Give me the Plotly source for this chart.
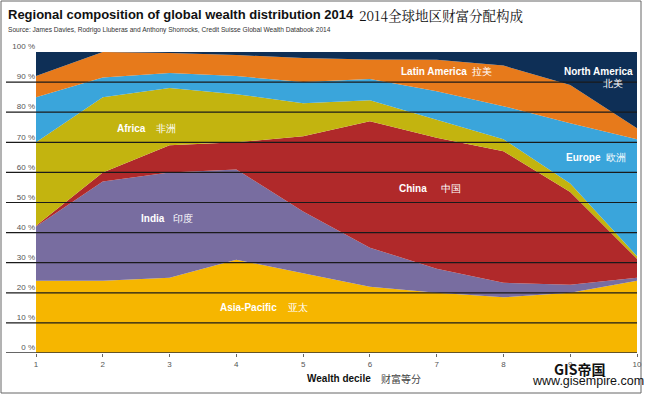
import plotly.graph_objects as go

deciles = [1, 2, 3, 4, 5, 6, 7, 8, 9, 10]
regions = ["Asia-Pacific", "India", "China", "Africa", "Europe", "Latin America", "North America"]
asia_pacific = [24, 24, 25, 31, 26.5, 22, 20, 18.5, 20, 24]
india = [18, 33, 35, 30, 20.5, 13, 8, 4.8, 2.7, 1]
china = [0.3, 3, 9, 9, 25, 42, 43.5, 43.7, 30.8, 6.3]
africa = [27.7, 25, 19, 16, 11, 7, 6, 4, 2.8, 0.9]
europe = [15, 6.5, 5, 6, 7, 7, 9.5, 11, 20, 38.8]
latin_america = [7, 8.5, 6.7, 7, 8, 6.5, 10.4, 13.5, 12.7, 3.7]
north_america = [8, 0, 0.3, 1, 2, 2.5, 2.6, 4.5, 11, 25.3]
y_ticks = [0, 10, 20, 30, 40, 50, 60, 70, 80, 90, 100]
y_tick_labels = [f"{v} %" for v in y_ticks]

series = [asia_pacific, india, china, africa, europe, latin_america, north_america]
colors = ["#F6B600", "#786DA0", "#B0292A", "#C3B40F", "#3AA5DB", "#E77A1B", "#0E2F56"]

W, H = 645, 395
L, R, T, B = 36, 8, 52, 42
PW, PH = W - L - R, H - T - B


def px(x):
    return (x - L) / PW


def py(y):
    return (H - B - y) / PH


fig = go.Figure()
for name, vals, col in zip(regions, series, colors):
    fig.add_trace(go.Scatter(
        x=deciles, y=vals, name=name, mode="lines", stackgroup="one",
        line=dict(width=0, color=col), fillcolor=col, hoverinfo="x+y+name"))

# gridlines drawn above the areas
shapes = []
for v in y_ticks[1:-1]:
    shapes.append(dict(type="line", xref="paper", yref="y", x0=px(6), x1=1.0, y0=v, y1=v,
                       line=dict(color="#1a1a1a", width=1.2), layer="above"))
shapes.append(dict(type="line", xref="paper", yref="y", x0=px(6), x1=1.0, y0=0, y1=0,
                   line=dict(color="#333", width=1.5), layer="above"))
# outer border
shapes.append(dict(type="rect", xref="paper", yref="paper", x0=px(1), x1=px(641), y0=py(393), y1=py(1),
                   line=dict(color="#666", width=1), layer="above"))

lab = dict(family="Liberation Sans, Arial", size=10, color="white")
annotations = [
    dict(text="<b>Africa</b>    非洲", x=2.18, y=74.7, xanchor="left", font=lab),
    dict(text="<b>India</b>   印度", x=2.54, y=44.8, xanchor="left", font=lab),
    dict(text="<b>China</b>     中国", x=6.4, y=54.8, xanchor="left", font=lab),
    dict(text="<b>Asia-Pacific</b>    亚太", x=3.72, y=15, xanchor="left", font=lab),
    dict(text="<b>Latin America</b>  拉美", x=6.43, y=93.4, xanchor="left", font=lab),
    dict(text="<b>North America</b>", x=8.87, y=93.6, xanchor="left", font=lab),
    dict(text="北美", x=9.46, y=89.6, xanchor="left", font=lab),
    dict(text="<b>Europe</b>  欧洲", x=8.9, y=64.8, xanchor="left", font=lab),
]
for a in annotations:
    a.update(xref="x", yref="y", showarrow=False, yanchor="middle")

paper_ann = [
    dict(text="<b>Regional composition of global wealth distribution 2014</b>", x=6, y=14, size=13,
         family="Liberation Sans, Arial", color="#111"),
    dict(text="2014全球地区财富分配构成", x=357, y=15, size=13.5,
         family="Noto Serif CJK SC, Noto Sans CJK SC", color="#111"),
    dict(text="Source: James Davies, Rodrigo Lluberas and Anthony Shorrocks, Credit Suisse Global Wealth Databook 2014",
         x=6, y=30, size=6.6, family="Liberation Sans, Arial", color="#333"),
    dict(text="<b>Wealth decile</b>", x=305, y=379, size=10, family="Liberation Sans, Arial", color="#111"),
    dict(text="财富等分", x=379, y=378, size=10, family="Noto Sans CJK SC", color="#444"),
    dict(text="<b>GIS帝国</b>", x=552, y=369, size=14, family="Noto Sans CJK SC", color="#111"),
    dict(text="www.gisempire.com", x=530, y=381, size=12.5, family="Liberation Sans, Arial", color="#111"),
]
for p in paper_ann:
    annotations.append(dict(text=p["text"], xref="paper", yref="paper",
                            x=px(p["x"]), y=py(p["y"]),
                            xanchor="left", yanchor="middle", showarrow=False,
                            font=dict(size=p["size"], family=p["family"], color=p["color"])))

fig.update_layout(
    width=W, height=H,
    margin=dict(l=L, r=R, t=T, b=B, autoexpand=False),
    paper_bgcolor="white", plot_bgcolor="white",
    showlegend=False,
    shapes=shapes, annotations=annotations,
    xaxis=dict(range=[1, 10], tickvals=deciles, ticktext=[str(d) for d in deciles],
               automargin=False,
               showgrid=False, zeroline=False, ticks="outside", ticklen=3, tickcolor="#666",
               tickfont=dict(family="Liberation Sans, Arial", size=8, color="#555")),
    yaxis=dict(range=[0, 100], tickvals=y_ticks, ticktext=y_tick_labels,
               automargin=False,
               showgrid=False, zeroline=False, ticks="",
               ticklabelposition="outside top",
               tickfont=dict(family="Liberation Sans, Arial", size=8, color="#555")),
)

fig.write_html("out.html", config={"displayModeBar": False},
               post_script="document.body.style.margin='0px';document.body.style.padding='0px';")
